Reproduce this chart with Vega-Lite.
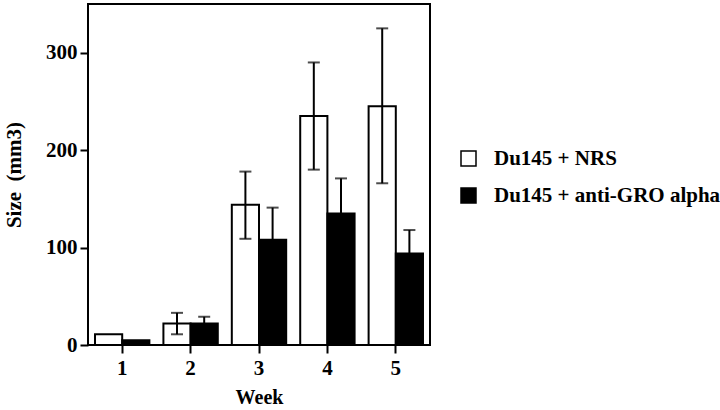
{
  "$schema": "https://vega.github.io/schema/vega-lite/v6.json",
  "autosize": "none",
  "padding": {"left": 88, "top": 4, "right": 290, "bottom": 65},
  "width": 342,
  "height": 341,
  "background": "white",
  "config": {
    "font": "Liberation Serif",
    "view": {"stroke": "black", "strokeWidth": 2},
    "axis": {"grid": false, "domain": false, "labelFont": "Liberation Serif", "labelFontWeight": "bold", "labelFontSize": 21, "labelColor": "black", "titleFont": "Liberation Serif", "titleFontWeight": "bold", "titleColor": "black", "tickColor": "black", "tickWidth": 2, "tickSize": 8}
  },
  "data": {
    "values": [
      {"week": "1", "group": "Du145 + NRS", "size": 11, "lo": null, "hi": null},
      {"week": "1", "group": "Du145 + anti-GRO alpha", "size": 5, "lo": null, "hi": null},
      {"week": "2", "group": "Du145 + NRS", "size": 22, "lo": 11, "hi": 33},
      {"week": "2", "group": "Du145 + anti-GRO alpha", "size": 22, "lo": 15, "hi": 29},
      {"week": "3", "group": "Du145 + NRS", "size": 144, "lo": 109, "hi": 178},
      {"week": "3", "group": "Du145 + anti-GRO alpha", "size": 108, "lo": 75, "hi": 141},
      {"week": "4", "group": "Du145 + NRS", "size": 235, "lo": 180, "hi": 290},
      {"week": "4", "group": "Du145 + anti-GRO alpha", "size": 135, "lo": 99, "hi": 171},
      {"week": "5", "group": "Du145 + NRS", "size": 245, "lo": 166, "hi": 325},
      {"week": "5", "group": "Du145 + anti-GRO alpha", "size": 94, "lo": 70, "hi": 118}
    ]
  },
  "encoding": {
    "x": {
      "field": "week", "type": "nominal",
      "scale": {"paddingInner": 0.205, "paddingOuter": 0.1025},
      "axis": {"title": "Week", "labelAngle": 0, "labelPadding": 4, "titleFontSize": 20, "titlePadding": 9}
    },
    "xOffset": {"field": "group", "type": "nominal", "sort": ["Du145 + NRS", "Du145 + anti-GRO alpha"], "scale": {"paddingInner": 0, "paddingOuter": 0}}
  },
  "layer": [
    {
      "mark": {"type": "bar", "stroke": "black", "strokeWidth": 2},
      "encoding": {
        "y": {
          "field": "size", "type": "quantitative",
          "scale": {"domain": [0, 350], "nice": false},
          "axis": {"title": "Size\u00a0\u00a0(mm3)", "values": [0, 100, 200, 300], "titleFontSize": 21, "labelPadding": 3, "titlePadding": 21}
        },
        "color": {
          "field": "group", "type": "nominal",
          "sort": ["Du145 + NRS", "Du145 + anti-GRO alpha"],
          "scale": {"domain": ["Du145 + NRS", "Du145 + anti-GRO alpha"], "range": ["white", "black"]},
          "legend": {
            "title": null, "orient": "none", "legendX": 370, "legendY": 144,
            "symbolType": "square", "symbolSize": 225, "symbolStrokeColor": "black", "symbolStrokeWidth": 1.5,
            "labelFont": "Liberation Serif", "labelFontWeight": "bold", "labelFontSize": 21, "labelColor": "black",
            "labelLimit": 0, "labelOffset": 15, "rowPadding": 15, "padding": 0
          }
        }
      }
    },
    {
      "transform": [{"filter": "datum.hi != null"}],
      "mark": {"type": "rule", "color": "black", "strokeWidth": 2},
      "encoding": {
        "y": {"field": "lo", "type": "quantitative"},
        "y2": {"field": "hi"}
      }
    },
    {
      "transform": [{"filter": "datum.hi != null"}],
      "mark": {"type": "tick", "color": "black", "thickness": 2, "size": 12},
      "encoding": {"y": {"field": "hi", "type": "quantitative"}}
    },
    {
      "transform": [{"filter": "datum.lo != null"}],
      "mark": {"type": "tick", "color": "black", "thickness": 2, "size": 12},
      "encoding": {"y": {"field": "lo", "type": "quantitative"}}
    }
  ]
}
